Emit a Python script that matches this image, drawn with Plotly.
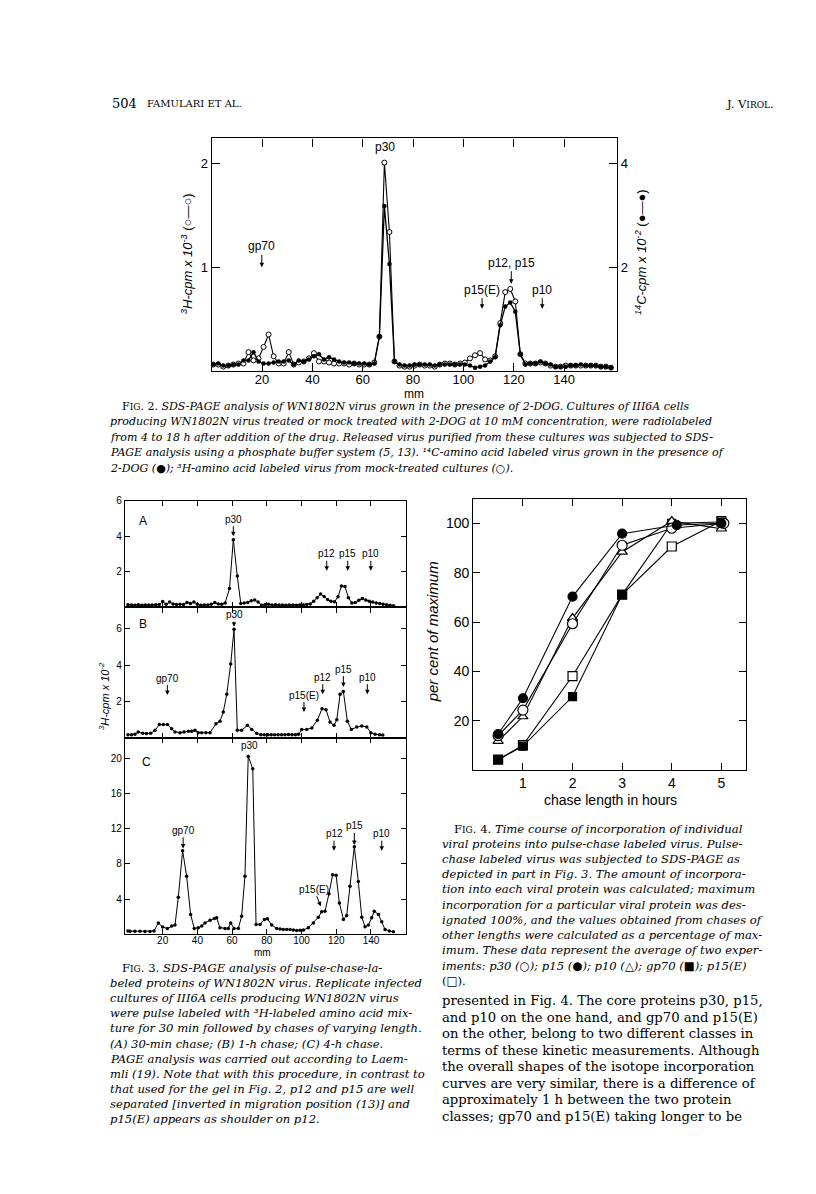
import plotly.graph_objects as go

# page is 816x1194; the html body has an 8 px margin, so the figure is 800x1178 placed at (8, 8)
PAGE_OFF = 8
W, H = 800, 1178

# ---------------- Fig. 2 data ----------------
fig2_mm = [0.6, 2.6, 4.6, 6.6, 8.6, 10.6, 12.6, 14.6, 16.6, 18.6,
           20.6, 22.6, 24.6, 26.6, 28.6, 30.6, 32.6, 34.6, 36.6, 38.6,
           40.6, 42.6, 44.6, 46.6, 48.6, 50.6, 52.6, 54.6, 56.6, 58.6,
           60.6, 62.6, 64.6, 66.6, 68.6, 70.6, 72.6, 74.6, 76.6, 78.6,
           80.6, 82.6, 84.6, 86.6, 88.6, 90.6, 92.6, 94.6, 96.6, 98.6,
           100.6, 102.6, 104.6, 106.6, 108.6, 110.6, 112.6, 114.6, 116.6, 118.6,
           120.6, 122.6, 124.6, 126.6, 128.6, 130.6, 132.6, 134.6, 136.6, 138.6,
           140.6, 142.6, 144.6, 146.6, 148.6, 150.6, 152.6, 154.6, 156.6, 158.6]
# 3H cpm x 10^-3 (open circles, left axis)
fig2_h3 = [0.06, 0.06, 0.04, 0.05, 0.06, 0.07, 0.07, 0.18, 0.10, 0.12,
           0.23, 0.35, 0.14, 0.07, 0.07, 0.18, 0.06, 0.08, 0.09, 0.12,
           0.17, 0.09, 0.09, 0.08, 0.07, 0.07, 0.07, 0.06, 0.07, 0.06,
           0.06, 0.06, 0.08, 0.33, 2.01, 1.34, 0.09, 0.05, 0.04, 0.04,
           0.05, 0.06, 0.05, 0.05, 0.04, 0.06, 0.07, 0.07, 0.06, 0.07,
           0.08, 0.12, 0.15, 0.17, 0.11, 0.10, 0.14, 0.46, 0.76, 0.79,
           0.67, 0.16, 0.07, 0.07, 0.07, 0.08, 0.07, 0.05, 0.04, 0.04,
           0.05, 0.05, 0.05, 0.05, 0.05, 0.05, 0.05, 0.04, 0.04, 0.03]
# 14C cpm x 10^-2 (filled circles, right axis)
fig2_c14 = [0.12, 0.14, 0.10, 0.10, 0.12, 0.12, 0.20, 0.20, 0.36, 0.18,
            0.14, 0.14, 0.16, 0.18, 0.18, 0.20, 0.12, 0.20, 0.18, 0.22,
            0.28, 0.32, 0.22, 0.26, 0.22, 0.18, 0.16, 0.16, 0.14, 0.14,
            0.14, 0.12, 0.14, 0.66, 3.18, 2.06, 0.18, 0.12, 0.10, 0.10,
            0.12, 0.12, 0.12, 0.12, 0.10, 0.12, 0.12, 0.12, 0.12, 0.12,
            0.12, 0.10, 0.06, 0.08, 0.10, 0.18, 0.26, 0.88, 1.24, 1.32,
            1.14, 0.32, 0.12, 0.14, 0.14, 0.18, 0.14, 0.12, 0.08, 0.08,
            0.08, 0.10, 0.10, 0.12, 0.10, 0.10, 0.10, 0.08, 0.08, 0.06]
fig2_xticks = [20, 40, 60, 80, 100, 120, 140]

# ---------------- Fig. 3 data (3H cpm x 10^-2) ----------------
figA_mm = [0, 2, 4, 6, 8, 10, 12, 14, 16, 18, 20, 22, 24, 26, 28, 30, 32, 34, 36, 38,
           40, 42, 44, 46, 48, 50, 52, 54, 56, 58.5, 60.7, 63, 65, 67, 69, 71, 73, 75, 77, 79,
           81, 83, 85, 87, 89, 91, 93, 95, 97, 99, 101, 103, 105, 107, 109, 111, 113, 115, 117, 119,
           121, 123, 125, 127, 129, 131, 133, 135, 137, 139, 141, 143, 145, 147, 149, 151, 153]
figA_val = [0.15, 0.14, 0.13, 0.15, 0.13, 0.14, 0.14, 0.14, 0.15, 0.16, 0.33, 0.18, 0.30, 0.20, 0.17, 0.18, 0.17, 0.28, 0.22, 0.30,
            0.18, 0.12, 0.14, 0.14, 0.18, 0.28, 0.20, 0.18, 0.25, 1.07, 3.80, 1.76, 0.22, 0.25, 0.28, 0.38, 0.42, 0.30, 0.12, 0.16,
            0.18, 0.14, 0.15, 0.14, 0.14, 0.13, 0.14, 0.14, 0.13, 0.14, 0.14, 0.16, 0.20, 0.35, 0.55, 0.75, 0.62, 0.45, 0.35, 0.32,
            0.60, 1.20, 1.18, 0.55, 0.25, 0.28, 0.40, 0.50, 0.42, 0.35, 0.30, 0.25, 0.22, 0.18, 0.15, 0.12, 0.10]

figB_mm = [0, 2, 4, 5.9, 8.5, 10.7, 13.1, 15.6, 18.1, 20.4, 22.7, 25.2, 27.1, 30, 32.3, 34.8, 36.7, 38.6,
           40.5, 42.5, 44.9, 47.3, 50.7, 53, 54.9, 56.9, 59.2, 61.1, 63, 65.5, 68.8, 71.3, 74.2, 76.5,
           78.5, 80.5, 82.5, 84.5, 86.5, 88.5, 90.5, 92.5, 94.5, 96.5, 98.3, 100.1, 103, 105.9, 109.1,
           111.8, 114.1, 116.4, 118.7, 120.3, 122.2, 124.1, 126.4, 128.7, 131.8, 134.7, 137.6, 139.9,
           142.4, 144.9, 146.8]
figB_val = [0.18, 0.18, 0.20, 0.33, 0.25, 0.24, 0.25, 0.42, 0.73, 0.73, 0.73, 0.50, 0.33, 0.29, 0.33, 0.36, 0.36, 0.42,
            0.29, 0.29, 0.29, 0.29, 0.78, 0.91, 1.42, 2.39, 4.06, 5.97, 0.42, 0.42, 0.69, 0.46, 0.24, 0.18,
            0.17, 0.18, 0.17, 0.18, 0.18, 0.17, 0.18, 0.19, 0.18, 0.18, 0.20, 0.46, 0.46, 0.55, 0.97,
            1.60, 1.55, 0.87, 0.69, 1.00, 2.39, 2.55, 0.91, 0.46, 0.60, 0.66, 0.60, 0.29,
            0.20, 0.18, 0.16]

figC_mm = [0, 1.2, 4.0, 6.9, 9.8, 12.7, 15, 17.5, 20, 22.7, 25.2, 27.1, 29, 31.5, 33.8, 36.1, 38.2, 40.5,
           42.5, 44.4, 47.3, 49.8, 51.1, 53, 55.9, 57.8, 59.2, 61.1, 63.6, 65.5, 67.4, 69.3, 71.9, 73.8,
           76.1, 78.6, 80.3, 82.8, 85.7, 87.6, 89.5, 91.4, 93.4, 95.3, 97.2, 99.1, 101.1, 103.9, 106.8,
           109.7, 111.6, 113.5, 115.8, 117.9, 119.9, 121.8, 124.1, 126.0, 127.9, 130.4, 132.7, 134.7,
           136.6, 138.5, 140.4, 141.9, 144.3, 146.2, 148.1, 150.6, 152.9]
figC_val = [0.38, 0.36, 0.36, 0.36, 0.34, 0.34, 0.38, 1.30, 0.83, 0.68, 0.94, 1.05, 4.20, 9.50, 6.60, 2.26, 0.68, 0.75,
            0.94, 1.30, 1.60, 1.80, 1.90, 0.75, 0.68, 0.68, 1.30, 0.68, 0.68, 2.07, 6.60, 20.2, 18.8, 1.13,
            1.13, 1.70, 1.77, 1.05, 0.68, 0.60, 0.56, 0.56, 0.56, 0.50, 0.45, 0.47, 0.49, 0.75, 1.30,
            1.95, 2.56, 2.63, 4.60, 6.77, 6.70, 3.57, 1.70, 2.14, 5.45, 9.96, 6.00, 1.95,
            0.86, 1.05, 1.88, 2.63, 2.26, 1.43, 0.56, 0.38, 0.30]
fig3_xticks = [20, 40, 60, 80, 100, 120, 140]

# ---------------- Fig. 4 data (per cent of maximum) ----------------
p30_hours = [0.5, 1, 2, 3, 4, 5.05]
p30_pct = [14.0, 24.3, 59.3, 91.1, 98.0, 100.0]
p15_hours = [0.5, 1, 2, 3, 4.1, 5]
p15_pct = [14.6, 29.1, 70.3, 95.8, 99.3, 100.0]
p10_hours = [0.5, 1, 2, 3, 4, 5]
p10_pct = [11.7, 21.7, 61.6, 88.4, 100.9, 97.8]
gp70_hours = [0.5, 1, 2, 3, 4, 5]
gp70_pct = [4.2, 9.7, 29.8, 71.1, 100.0, 100.5]
p15e_hours = [0.5, 1, 2, 3, 4, 5]
p15e_pct = [4.2, 10.1, 38.1, 71.1, 90.6, 100.9]

# ---------------- text ----------------
SC = "<span style='font-size:9px'>"
fig2_caption = [
    "F" + SC + "IG</span>. 2. <i>SDS-PAGE analysis of WN1802N virus grown in the presence of 2-DOG. Cultures of III6A cells</i>",
    "<i>producing WN1802N virus treated or mock treated with 2-DOG at 10 mM concentration, were radiolabeled</i>",
    "<i>from 4 to 18 h after addition of the drug. Released virus purified from these cultures was subjected to SDS-</i>",
    "<i>PAGE analysis using a phosphate buffer system (5, 13). ¹⁴C-amino acid labeled virus grown in the presence of</i>",
    "<i>2-DOG (</i>●<i>); ³H-amino acid labeled virus from mock-treated cultures (</i>○<i>).</i>",
]
fig3_caption = [
    "F" + SC + "IG</span>. 3. <i>SDS-PAGE analysis of pulse-chase-la-</i>",
    "<i>beled proteins of WN1802N virus. Replicate infected</i>",
    "<i>cultures of III6A cells producing WN1802N virus</i>",
    "<i>were pulse labeled with ³H-labeled amino acid mix-</i>",
    "<i>ture for 30 min followed by chases of varying length.</i>",
    "<i>(A) 30-min chase; (B) 1-h chase; (C) 4-h chase.</i>",
    "<i>PAGE analysis was carried out according to Laem-</i>",
    "<i>mli (19). Note that with this procedure, in contrast to</i>",
    "<i>that used for the gel in Fig. 2, p12 and p15 are well</i>",
    "<i>separated [inverted in migration position (13)] and</i>",
    "<i>p15(E) appears as shoulder on p12.</i>",
]
fig4_caption = [
    "F" + SC + "IG</span>. 4. <i>Time course of incorporation of individual</i>",
    "<i>viral proteins into pulse-chase labeled virus. Pulse-</i>",
    "<i>chase labeled virus was subjected to SDS-PAGE as</i>",
    "<i>depicted in part in Fig. 3. The amount of incorpora-</i>",
    "<i>tion into each viral protein was calculated; maximum</i>",
    "<i>incorporation for a particular viral protein was des-</i>",
    "<i>ignated 100%, and the values obtained from chases of</i>",
    "<i>other lengths were calculated as a percentage of max-</i>",
    "<i>imum. These data represent the average of two exper-</i>",
    "<i>iments: p30 (</i>○<i>); p15 (</i>●<i>); p10 (</i>△<i>); gp70 (</i>■<i>); p15(E)</i>",
    "(□).",
]
body_text = [
    "presented in Fig. 4. The core proteins p30, p15,",
    "and p10 on the one hand, and gp70 and p15(E)",
    "on the other, belong to two different classes in",
    "terms of these kinetic measurements. Although",
    "the overall shapes of the isotope incorporation",
    "curves are very similar, there is a difference of",
    "approximately 1 h between the two protein",
    "classes; gp70 and p15(E) taking longer to be",
]

SANS = "Liberation Sans"
SERIF = "DejaVu Serif"


def px(x):
    return (x - PAGE_OFF) / W


def py(y):
    return 1 - (y - PAGE_OFF) / H


fig = go.Figure()

# Fig 2 traces
fig.add_trace(go.Scatter(x=fig2_mm, y=fig2_h3, mode="lines+markers", xaxis="x", yaxis="y",
                         line=dict(color="black", width=1.1),
                         marker=dict(symbol="circle", size=5, color="white", line=dict(color="black", width=1))))
fig.add_trace(go.Scatter(x=fig2_mm, y=fig2_c14, mode="lines+markers", xaxis="x", yaxis="y2",
                         line=dict(color="black", width=1.3),
                         marker=dict(symbol="circle", size=4.5, color="black")))

# Fig 3 traces
for xs, ys, xa, ya in [(figA_mm, figA_val, "x2", "y3"), (figB_mm, figB_val, "x3", "y4"),
                       (figC_mm, figC_val, "x4", "y5")]:
    fig.add_trace(go.Scatter(x=xs, y=ys, mode="lines+markers", xaxis=xa, yaxis=ya,
                             line=dict(color="black", width=1),
                             marker=dict(symbol="circle", size=3.5, color="black")))

# Fig 4 traces
f4 = [
    (p15e_hours, p15e_pct, "square", "white", 9),
    (gp70_hours, gp70_pct, "square", "black", 8),
    (p10_hours, p10_pct, "triangle-up", "white", 9),
    (p30_hours, p30_pct, "circle", "white", 10),
    (p15_hours, p15_pct, "circle", "black", 9),
]
for xs, ys, sym, col, sz in f4:
    fig.add_trace(go.Scatter(x=xs, y=ys, mode="lines+markers", xaxis="x5", yaxis="y6",
                             line=dict(color="black", width=1.1),
                             marker=dict(symbol=sym, size=sz, color=col, line=dict(color="black", width=1.2))))

common = dict(showline=True, linecolor="black", linewidth=1.2, showgrid=False, zeroline=False,
              ticks="inside", tickcolor="black", tickwidth=1.2)

layout = dict(
    width=W, height=H, margin=dict(l=0, r=0, t=0, b=0),
    paper_bgcolor="white", plot_bgcolor="rgba(0,0,0,0)", showlegend=False,
    font=dict(family=SANS, color="black"),
    # Fig 2
    xaxis=dict(domain=[px(211.7), px(617)], range=[0, 161], anchor="y", tickvals=fig2_xticks,
               ticklen=8, mirror="ticks", tickfont=dict(size=13), ticklabelstandoff=-3, **common),
    yaxis=dict(domain=[py(367.3), py(134)], range=[0, 2.243], anchor="x", tickvals=[1, 2],
               ticklen=8, tickfont=dict(size=13), **common),
    yaxis2=dict(overlaying="y", side="right", range=[0, 4.486], anchor="x", tickvals=[2, 4],
                ticklen=8, tickfont=dict(size=13), **common),
    # Fig 3
    xaxis2=dict(domain=[px(125), px(405.7)], range=[-1.7, 160], anchor="y3", tickvals=fig3_xticks,
                showticklabels=False, ticklen=5, mirror="ticks", **common),
    yaxis3=dict(domain=[py(605), py(497.7)], range=[0, 6], anchor="x2", tickvals=[2, 4, 6],
                ticklen=5, mirror="ticks", tickfont=dict(size=10), **common),
    xaxis3=dict(domain=[px(125), px(405.7)], range=[-1.7, 160], anchor="y4", tickvals=fig3_xticks,
                showticklabels=False, ticklen=5, mirror="ticks", **common),
    yaxis4=dict(domain=[py(736), py(605)], range=[0, 7.16], anchor="x3", tickvals=[2, 4, 6],
                ticklen=5, mirror="ticks", tickfont=dict(size=10), **common),
    xaxis4=dict(domain=[px(125), px(405.7)], range=[-1.7, 160], anchor="y5", tickvals=fig3_xticks,
                ticklen=5, mirror="ticks", tickfont=dict(size=10), ticklabelstandoff=-3, **common),
    yaxis5=dict(domain=[py(933.3), py(736)], range=[0, 22.3], anchor="x4", tickvals=[4, 8, 12, 16, 20],
                ticklen=5, mirror="ticks", tickfont=dict(size=10), **common),
    # Fig 4
    xaxis5=dict(domain=[px(473.3), px(745.7)], range=[0, 5.49], anchor="y6", tickvals=[1, 2, 3, 4, 5],
                ticklen=7, mirror="ticks", tickfont=dict(size=14), **common),
    yaxis6=dict(domain=[py(768.3), py(495.7)], range=[0, 110], anchor="x5", tickvals=[20, 40, 60, 80, 100],
                ticklen=7, mirror="ticks", tickfont=dict(size=14), **common),
)
fig.update_layout(**layout)

ann = []


def label(text, x, y, xref, yref, ay, ax=0, size=12):
    ann.append(dict(text=text, x=x, y=y, xref=xref, yref=yref, showarrow=True, ax=ax, ay=ay,
                    arrowhead=2, arrowsize=0.9, arrowwidth=1, arrowcolor="black",
                    font=dict(size=size, family=SANS), standoff=0, startstandoff=0))


def ptext(text, x, y, size=12, family=SANS, xanchor="center", angle=0):
    ann.append(dict(text=text, x=px(x), y=py(y), xref="paper", yref="paper", showarrow=False,
                    xanchor=xanchor, yanchor="middle", textangle=angle,
                    font=dict(size=size, family=family, color="black")))


# Fig 2 labels
ann.append(dict(text="p30", x=68.7, y=2.07, xref="x", yref="y", showarrow=False, yanchor="bottom",
                font=dict(size=12, family=SANS)))
label("gp70", 19.9, 1.0, "x", "y", -21)
label("p12, p15", 119, 0.84, "x", "y", -21)
label("p15(E)", 107.4, 0.6, "x", "y", -19)
label("p10", 131.3, 0.6, "x", "y", -19)
ptext("<i><sup>3</sup>H-cpm x 10<sup>-3</sup></i> (○—○)", 187, 250, size=13, angle=-90)
ptext("<i><sup>14</sup>C-cpm x 10<sup>-2</sup></i> (●—●)", 641, 248, size=13, angle=-90)
ptext("mm", 414, 391, size=12)

# Fig 3 labels
label("p30", 60.7, 4.0, "x2", "y3", -17, size=10)
label("p12", 114.5, 2.06, "x2", "y3", -17, size=10)
label("p15", 126.6, 2.06, "x2", "y3", -17, size=10)
label("p10", 139.9, 2.06, "x2", "y3", -17, size=10)
label("p30", 61.1, 6.1, "x3", "y4", -12, size=10)
label("gp70", 22.7, 2.35, "x3", "y4", -17, size=10)
label("p12", 112.2, 2.4, "x3", "y4", -17, size=10)
label("p15", 124.1, 2.79, "x3", "y4", -18, size=10)
label("p10", 137.9, 2.4, "x3", "y4", -17, size=10)
label("p15(E)", 101.4, 1.42, "x3", "y4", -17, size=10)
ann.append(dict(text="p30", x=69.9, y=20.6, xref="x4", yref="y5", showarrow=False, yanchor="bottom",
                font=dict(size=10, family=SANS)))
label("gp70", 31.8, 9.76, "x4", "y5", -18, size=10)
label("p12", 118.7, 9.5, "x4", "y5", -17, size=10)
label("p15", 130.4, 10.15, "x4", "y5", -19, size=10)
label("p10", 146.2, 9.5, "x4", "y5", -17, size=10)
label("p15(E)", 111.1, 3.19, "x4", "y5", -17, ax=-7, size=10)
ptext("A", 143.3, 518.3, size=12)
ptext("B", 143, 621.7, size=12)
ptext("C", 146.7, 760, size=12)
ptext("<i><sup>3</sup>H-cpm x 10<sup>-2</sup></i>", 104, 694, size=11, angle=-90)
ptext("mm", 263, 952, size=10)

# Fig 4 labels
ptext("<i>per cent of maximum</i>", 432, 630, size=15, angle=-90)
ptext("chase length in hours", 610, 798, size=14)

# Header
ptext("504", 110, 99, size=13, family=SERIF, xanchor="left")
ptext("FAMULARI ET AL.", 145, 99, size=10, family=SERIF, xanchor="left")
ptext("J. V<span style='font-size:9px'>IROL</span>.", 776, 99, size=11.5, family=SERIF, xanchor="right")

# Captions
for i, t in enumerate(fig2_caption):
    ptext(t, 120 if i == 0 else 108, 403 + 15.5 * i, size=11.0, family=SERIF, xanchor="left")
for i, t in enumerate(fig3_caption):
    ptext(t, 120 if i == 0 else 108, 967 + 15.2 * i, size=11.6, family=SERIF, xanchor="left")
for i, t in enumerate(fig4_caption):
    ptext(t, 452 if i == 0 else 440, 827 + 15.3 * i, size=11.6, family=SERIF, xanchor="left")
for i, t in enumerate(body_text):
    ptext(t, 440, 1000 + 16.6 * i, size=13.2, family=SERIF, xanchor="left")

fig.update_layout(annotations=ann)
fig.write_html("out.html")
